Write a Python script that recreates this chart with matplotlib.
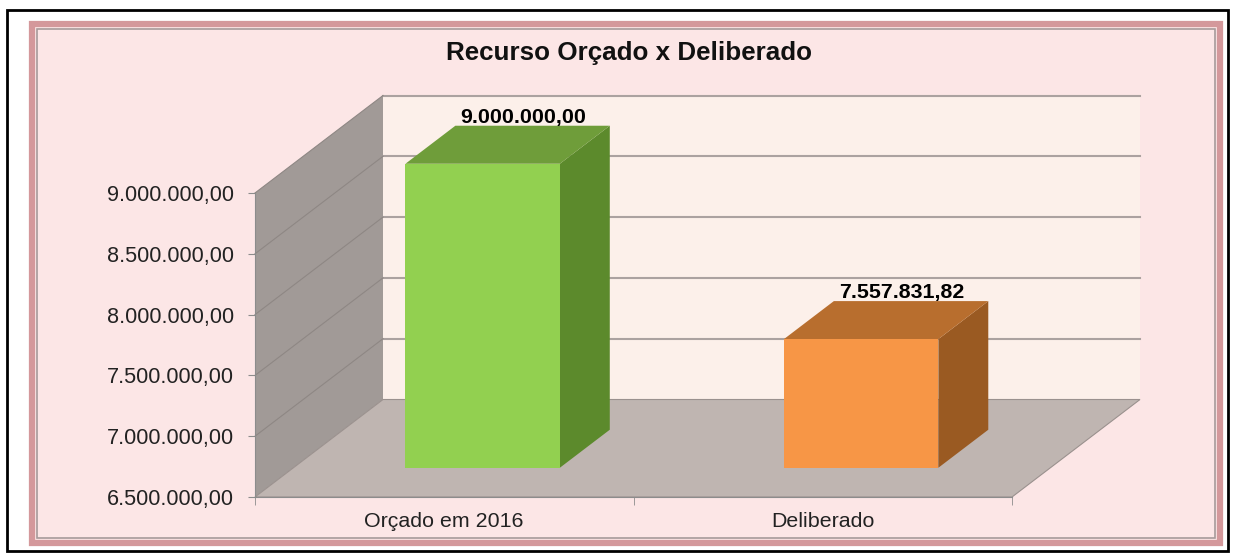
import matplotlib.pyplot as plt
from matplotlib.patches import Polygon, Rectangle
from matplotlib.ticker import FuncFormatter

# data
categories = ['Orçado em 2016', 'Deliberado']
values = [9000000.00, 7557831.82]
title = 'Recurso Orçado x Deliberado'
y_min, y_max, y_step = 6500000, 9000000, 500000

front_colors = ['#92D050', '#F79646']
top_colors = ['#6F9D3A', '#B86E2E']
side_colors = ['#5C8A2C', '#9A5A22']

plt.rcParams['font.family'] = ['Liberation Sans', 'DejaVu Sans']


def br_number(v, pos=None):
    s = f'{v:,.2f}'
    return s.replace(',', '#').replace('.', ',').replace('#', '.')


W, H = 1234, 556
fig = plt.figure(figsize=(W / 100, H / 100), dpi=100)
fig.patch.set_facecolor('white')

# background / frame axes in pixel units
bg = fig.add_axes([0, 0, 1, 1], zorder=0)
bg.set_xlim(0, W)
bg.set_ylim(H, 0)
bg.axis('off')
bg.add_patch(Rectangle((7, 10), 1221, 541, fill=False, ec='black', lw=2))
bg.add_patch(Rectangle((32, 24), 1188, 519, fc='#FCE6E6', ec='#D4989B', lw=4.5))
bg.add_patch(Rectangle((37, 29), 1178, 509, fill=False, ec='#A69A9A', lw=1.2))

# front plane axes
ax = fig.add_axes([255 / W, (H - 497) / H, 757 / W, 304 / H], zorder=1)
ax.set_xlim(0, len(categories))
ax.set_ylim(y_min, y_max)
ax.patch.set_alpha(0)

# depth offset of the 3D box (in data units)
inv = ax.transData.inverted()
p0 = ax.transData.transform((0, y_min))
p1 = inv.transform((p0[0] + 128, p0[1] + 97.5))
DX, DY = p1[0], p1[1] - y_min


def proj(x, y, t):
    return (x + t * DX, y + t * DY)


def poly(pts, **kw):
    ax.add_patch(Polygon(pts, closed=True, clip_on=False, **kw))


n = len(categories)
# walls
poly([proj(0, y_min, 1), proj(n, y_min, 1), proj(n, y_max, 1), proj(0, y_max, 1)],
     fc='#FCF0EA', ec='none', zorder=1)
poly([(0, y_min), (0, y_max), proj(0, y_max, 1), proj(0, y_min, 1)],
     fc='#A19A97', ec='none', zorder=2)
poly([(0, y_min), (n, y_min), proj(n, y_min, 1), proj(0, y_min, 1)],
     fc='#BFB5B1', ec='#9A918E', lw=0.8, zorder=2)

ticks = list(range(y_min, y_max + 1, y_step))
for yv in ticks[1:]:
    ax.plot(*zip(proj(0, yv, 1), proj(n, yv, 1)), color='#ABA2A0', lw=1.5,
            clip_on=False, zorder=1.5)
    ax.plot(*zip((0, yv), proj(0, yv, 1)), color='#8E8784', lw=0.8,
            clip_on=False, zorder=2.5)

# bars
bw = 0.408
t0, t1 = 0.30, 0.69
for i, v in enumerate(values):
    xc = i + 0.5
    x0, x1 = xc - bw / 2, xc + bw / 2
    poly([proj(x1, y_min, t0), proj(x1, v, t0), proj(x1, v, t1), proj(x1, y_min, t1)],
         fc=side_colors[i], ec='none', zorder=4)
    poly([proj(x0, v, t0), proj(x1, v, t0), proj(x1, v, t1), proj(x0, v, t1)],
         fc=top_colors[i], ec='none', zorder=4)
    poly([proj(x0, y_min, t0), proj(x1, y_min, t0), proj(x1, v, t0), proj(x0, v, t0)],
         fc=front_colors[i], ec='none', zorder=5)
    lx, ly = proj(xc, v, 0.62)
    ax.annotate(br_number(v), (lx, ly), xytext=(0, 4), textcoords='offset points',
                ha='center', va='bottom', fontsize=15.4, fontweight='bold',
                annotation_clip=False, zorder=6)

# axes styling
for s in ['top', 'right']:
    ax.spines[s].set_visible(False)
for s in ['left', 'bottom']:
    ax.spines[s].set_color('#8C8C8C')
    ax.spines[s].set_zorder(3)
ax.set_yticks(ticks)
ax.yaxis.set_major_formatter(FuncFormatter(br_number))
ax.tick_params(axis='y', length=5, color='#8C8C8C', labelsize=15.6, pad=10,
               labelcolor='#222222')
ax.set_xticks([i + 0.5 for i in range(n)])
ax.set_xticklabels(categories)
ax.set_xticks(range(n + 1), minor=True)
ax.tick_params(axis='x', which='major', length=0, labelsize=15.4, pad=11,
               labelcolor='#222222')
ax.tick_params(axis='x', which='minor', length=6, color='#8C8C8C')

fig.text(629 / W, 1 - 53 / H, title, ha='center', va='center',
         fontsize=18.7, fontweight='bold', color='#111111')

fig.savefig('out.png', dpi=100, facecolor=fig.get_facecolor())
